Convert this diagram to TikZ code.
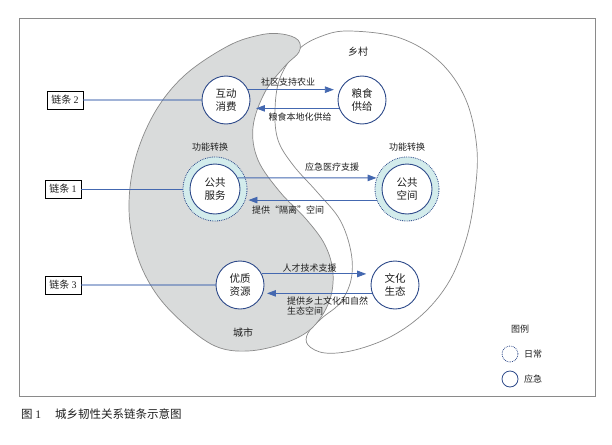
\documentclass[tikz,border=0pt]{standalone}
\usepackage{fontspec}
\setmainfont{Noto Sans CJK SC}
\newfontfamily\latinf{Liberation Serif}
\usetikzlibrary{arrows.meta}
\definecolor{cblue}{HTML}{2E4A8A}
\definecolor{ablue}{HTML}{4468B0}
\definecolor{cityfill}{HTML}{D9DBDB}
\definecolor{outl}{HTML}{8A8A8A}
\definecolor{ringfill}{HTML}{D3ECEC}
\definecolor{txtc}{HTML}{1E1E1E}
\begin{document}
\begin{tikzpicture}[x=1pt,y=-1pt,
  circ/.style={circle, draw=cblue, line width=0.9pt, fill=white, minimum size=48pt, inner sep=0pt, align=center, font=\fontsize{10.5}{13.5}\selectfont, text=txtc},
  ring/.style={circle, draw=cblue, densely dotted, line width=0.8pt, fill=ringfill, minimum size=64pt, inner sep=0pt},
  chainbox/.style={draw=black, line width=0.8pt, fill=white, minimum width=36pt, minimum height=18pt, inner sep=0pt, font=\fontsize{10}{12}\selectfont, text=txtc},
  arr/.style={draw=ablue, line width=0.9pt, -{Triangle[length=9pt,width=6.5pt]}},
  lbl/.style={font=\fontsize{9}{9.5}\selectfont, text=txtc, inner sep=0pt},
  link/.style={draw=ablue, line width=1.4pt, opacity=0.5},
  mainlink/.style={draw=ablue, line width=1pt},
  legc/.style={circle, draw=cblue, line width=0.8pt, minimum size=16pt, inner sep=0pt},
  region/.style={draw=outl, line width=0.7pt},
]
\useasboundingbox (0,0) rectangle (612,444);
\draw[outl, line width=0.9pt] (19.5,18.5) rectangle (595.5,396.5);

% rural region
\draw[region, fill=white] plot[smooth cycle, tension=0.6] coordinates {
 (350,31) (400,38) (440,62) (466,100) (477,150) (474,200) (466,240) (450,280)
 (425,312) (392,336) (355,350) (325,353) (308,345) (308,333) (322,318) (340,303)
 (351,280) (351,252) (340,220) (318,193) (293,165) (278,140) (275,110) (280,78)
 (298,50) (322,36)};
% city region
\draw[region, fill=cityfill] plot[smooth cycle, tension=0.6] coordinates {
 (282,34) (298,40) (299,52) (285,66) (265,92) (253,127) (258,160) (280,192)
 (306,219) (325,245) (333,273) (329,302) (312,328) (285,343) (248,351) (215,346)
 (182,322) (155,292) (137,255) (129,210) (135,160) (155,112) (185,75) (228,46) (260,35)};

\node[text=txtc, font=\fontsize{10}{12}\selectfont] (xc) at (358,52) {乡村};
\node[text=txtc, font=\fontsize{10}{12}\selectfont] (cs) at (243,333) {城市};

% chain boxes
\node[chainbox] (l2) at (65,100) {链条 {\latinf 2}};
\node[chainbox] (l1) at (63,189) {链条 {\latinf 1}};
\node[chainbox] (l3) at (63,285) {链条 {\latinf 3}};

% circles
\node[ring] (ggfwo) at (215,189) {};
\node[ring] (ggkjo) at (407,189) {};
\node[circ] (hd) at (226,100) {互动\\消费};
\node[circ] (lsg) at (362,100) {粮食\\供给};
\node[circ, minimum size=50pt] (ggfw) at (215,189) {公共\\服务};
\node[circ, minimum size=50pt] (ggkj) at (407,189) {公共\\空间};
\node[circ] (yzzy) at (240,285) {优质\\资源};
\node[circ] (whst) at (395,285) {文化\\生态};

% chain links
\draw[link] (l2.east) -- (hd.west);
\draw[mainlink] (l1.east) -- (ggfwo.west);
\draw[link] (l3.east) -- (yzzy.west);

% arrows
\draw[arr, shorten >=6pt] (hd.25) -- (lsg.155);
\draw[arr, shorten >=7pt] (lsg.200) -- (hd.340);
\draw[arr] (ggfw.26) -- (ggkjo.160);
\draw[arr, shorten >=3pt] (ggkjo.200) -- (ggfwo.340);
\draw[arr, shorten >=7pt] (yzzy.27) -- (whst.153);
\draw[arr, shorten >=4pt] (whst.200) -- (yzzy.340);

% arrow labels
\node[lbl] (t1) at (288,82) {社区支持农业};
\node[lbl] (t2) at (300,117) {粮食本地化供给};
\node[lbl] (t3) at (332,167) {应急医疗支援};
\node[lbl] (t4) at (288,210) {提供“隔离”空间};
\node[lbl] (t5) at (309.5,268) {人才技术支援};
\node[lbl, anchor=north west, align=left] (t6) at (287,297) {提供乡土文化和自然\\生态空间};

\node[lbl] (f1) at (210,147) {功能转换};
\node[lbl] (f2) at (407,147) {功能转换};

% legend
\node[lbl] (lg) at (520,329) {图例};
\node[legc, densely dotted] (lg1) at (510,354) {};
\node[legc] (lg2) at (510,379) {};
\node[lbl] (lgt1) at (533,354) {日常};
\node[lbl] (lgt2) at (533,379) {应急};

% caption
\node[anchor=west, text=txtc, font=\fontsize{11.5}{13}\selectfont, inner sep=0pt] (cap) at (21,414) {图 {\latinf 1}\hspace{14pt}城乡韧性关系链条示意图};
\end{tikzpicture}
\end{document}
